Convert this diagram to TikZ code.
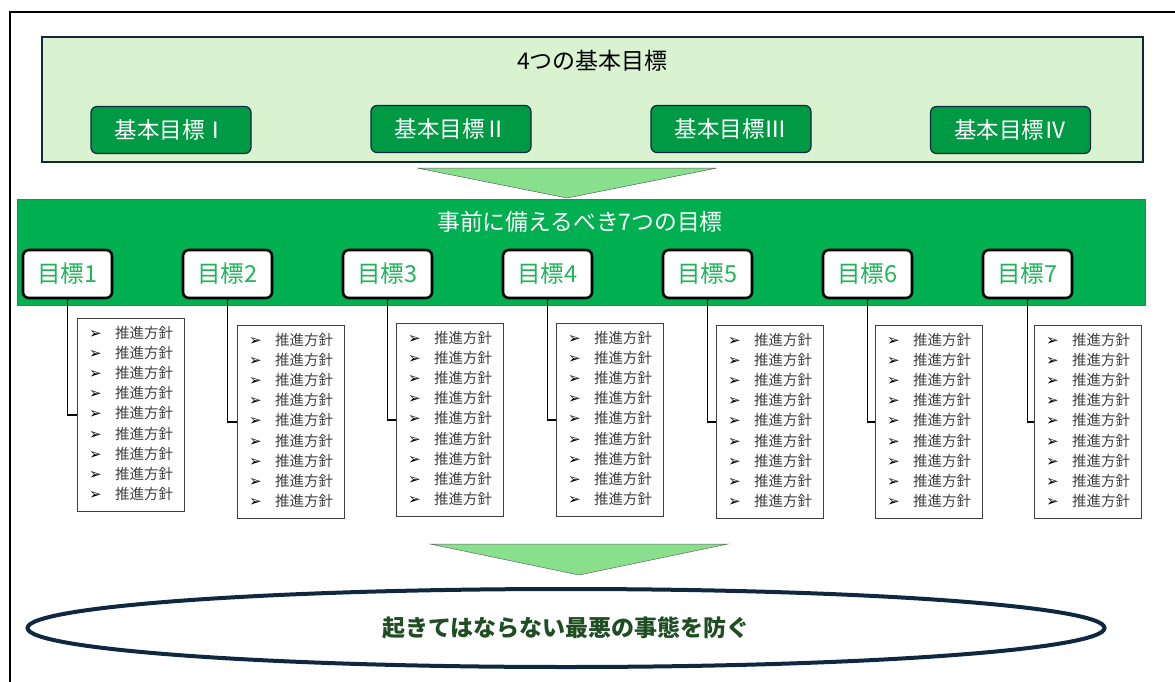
\documentclass[tikz,border=0pt]{standalone}
\usepackage{fontspec}
\setmainfont{Noto Sans CJK JP}
\newfontfamily\dejavu{DejaVu Sans}
\usetikzlibrary{calc,shapes.geometric}
\definecolor{lightg}{HTML}{D9F2D0}
\definecolor{btng}{HTML}{009A44}
\definecolor{bandg}{HTML}{00B050}
\definecolor{arrowg}{HTML}{88E08D}
\definecolor{navy}{HTML}{0E2841}
\definecolor{goalg}{HTML}{1FB55A}
\definecolor{darkg}{HTML}{1F4E24}
\definecolor{itemgray}{HTML}{404040}
\tikzset{
  topbox/.style={draw=navy, line width=1.2pt, fill=lightg, minimum width=1101pt, minimum height=125pt, inner sep=0pt},
  basebtn/.style={draw=navy, line width=1.2pt, fill=btng, rounded corners=6pt, minimum width=160pt, minimum height=47pt, inner sep=0pt, text=white, font=\fontsize{22.5}{26}\selectfont},
  band/.style={draw=navy!70, line width=0.8pt, fill=bandg, minimum width=1128pt, minimum height=106pt, inner sep=0pt},
  goalbox/.style={draw=black, line width=2.6pt, fill=white, rounded corners=6pt, minimum width=89pt, minimum height=48pt, inner sep=0pt, text=goalg, font=\fontsize{23.5}{27}\selectfont},
  listbox/.style={draw=itemgray, line width=1.4pt, fill=white, minimum width=107pt, minimum height=193pt, inner sep=0pt, anchor=north west},
  itemtext/.style={anchor=west, inner sep=0pt, text=itemgray, font=\fontsize{14.5}{17}\selectfont},
  conn/.style={draw=black, line width=1.5pt},
  bigarrow/.style={fill=arrowg, draw=gray!80!black, line width=0.5pt},
  goalellipse/.style={ellipse, draw=navy, line width=4pt, fill=white, minimum width=1077pt, minimum height=78pt, inner sep=0pt, text=darkg, font=\fontsize{23}{27}\selectfont\bfseries}
}
\begin{document}
\begin{tikzpicture}[x=1pt,y=-1pt]
\useasboundingbox (0,0) rectangle (1175,682);
\fill[white] (0,0) rectangle (1175,682);
\draw[line width=2pt] (10,690) -- (10,12) -- (1180,12);

% top box
\node[topbox] (top) at (592.5,99.5) {};
\node[inner sep=0pt, font=\fontsize{23}{27}\selectfont] (toptitle) at (592.5,61) {4つの基本目標};
\node[basebtn] (b1) at (171,130) {基本目標Ⅰ};
\node[basebtn] (b2) at (451,129) {基本目標Ⅱ};
\node[basebtn] (b3) at (731,129) {基本目標Ⅲ};
\node[basebtn] (b4) at (1010.5,130) {基本目標Ⅳ};

% arrow 1
\draw[bigarrow] (417,168) -- (717,168) -- (567,198) -- cycle;

% band
\node[band] (band) at (581,252) {};
\node[inner sep=0pt, text=white, font=\fontsize{22.8}{27}\selectfont] (bandtitle) at (580,222) {事前に備えるべき7つの目標};

% goals and lists
\foreach \x/\t [count=\i] in {77/318, 237/325, 396/323, 556/323, 716/325, 875/325, 1034/325} {
  \node[goalbox] (g\i) at ({67.5+160*(\i-1)},274) {目標\i};
  \node[listbox] (l\i) at (\x,\t) {};
  \draw[conn] (g\i.south) |- (l\i.west);
  \foreach \j in {1,...,9} {
    \node[itemtext] (it\i-\j) at ($(l\i.north west)+(12,{15+20.1*(\j-1)})$)
      {\makebox[26pt][l]{\dejavu\fontsize{15}{17}\selectfont\color{black}➢}推進方針};
  }
}

% arrow 2
\draw[bigarrow] (430,544) -- (728,544) -- (579,575) -- cycle;

% ellipse
\node[goalellipse] (goal) at (566,628) {起きてはならない最悪の事態を防ぐ};
\end{tikzpicture}
\end{document}
